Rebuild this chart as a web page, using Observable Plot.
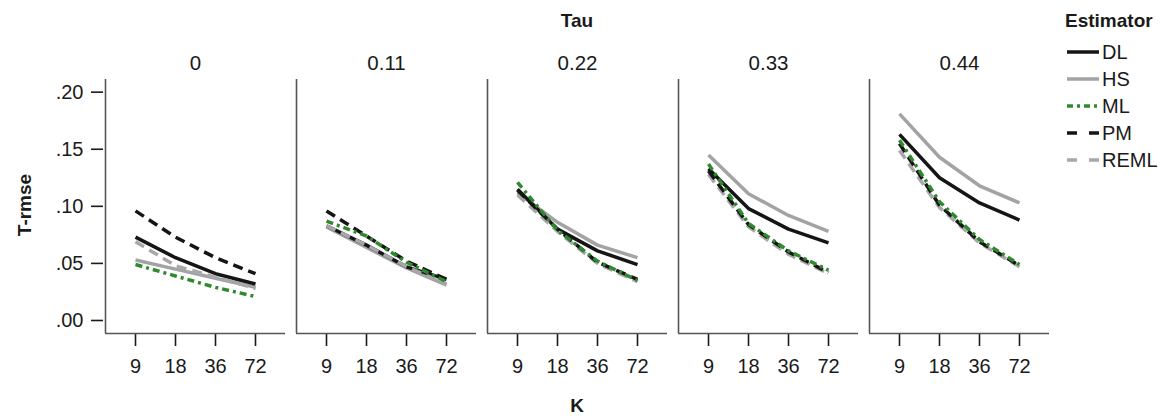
<!DOCTYPE html>
<html>
<head>
<meta charset="utf-8">
<script src="https://cdn.jsdelivr.net/npm/d3@7"></script>
<script src="https://cdn.jsdelivr.net/npm/@observablehq/plot@0.6"></script>
<style>
  html, body { margin: 0; padding: 0; background: #fff; }
  #chart { width: 1175px; height: 419px; }
</style>
</head>
<body>
<div id="chart"></div>
<script>
// ---- data ----
const taus = [0, 0.11, 0.22, 0.33, 0.44];
const Kvals = [9, 18, 36, 72];
const estimators = ["DL", "HS", "ML", "PM", "REML"];
const yTicks = [0, 0.05, 0.10, 0.15, 0.20];

// values per tau panel (rows) at K = 9, 18, 36, 72 (columns)
const DL = [
  [0.073, 0.055, 0.041, 0.032],
  [0.083, 0.066, 0.047, 0.036],
  [0.115, 0.080, 0.061, 0.049],
  [0.133, 0.098, 0.080, 0.068],
  [0.163, 0.125, 0.103, 0.088]
];
const HS = [
  [0.053, 0.045, 0.037, 0.029],
  [0.082, 0.064, 0.046, 0.031],
  [0.112, 0.086, 0.066, 0.055],
  [0.145, 0.111, 0.092, 0.078],
  [0.181, 0.143, 0.118, 0.103]
];
const ML = [
  [0.049, 0.039, 0.029, 0.021],
  [0.087, 0.074, 0.051, 0.034],
  [0.121, 0.079, 0.052, 0.035],
  [0.137, 0.085, 0.061, 0.044],
  [0.158, 0.104, 0.071, 0.049]
];
const PM = [
  [0.096, 0.073, 0.055, 0.041],
  [0.096, 0.074, 0.052, 0.036],
  [0.114, 0.080, 0.051, 0.036],
  [0.131, 0.084, 0.060, 0.042],
  [0.155, 0.101, 0.069, 0.048]
];
const REML = [
  [0.069, 0.048, 0.038, 0.028],
  [0.083, 0.066, 0.047, 0.032],
  [0.110, 0.078, 0.050, 0.034],
  [0.128, 0.082, 0.058, 0.041],
  [0.149, 0.099, 0.068, 0.047]
];

// ---- build table ----
const series = {DL, HS, ML, PM, REML};
const rows = [];
for (const est of estimators) {
  series[est].forEach((vals, ti) => {
    vals.forEach((v, ki) => rows.push({est, tau: taus[ti], k: Kvals[ki], v}));
  });
}

const styles = {
  DL:   {stroke: "#151515", strokeWidth: 3.5},
  HS:   {stroke: "#a3a3a3", strokeWidth: 3.5},
  ML:   {stroke: "#2f8a2f", strokeWidth: 3.5, strokeDasharray: "7,4,3,4"},
  PM:   {stroke: "#151515", strokeWidth: 3.5, strokeDasharray: "10,6"},
  REML: {stroke: "#a8a8a8", strokeWidth: 3.5, strokeDasharray: "10,6"}
};
const drawOrder = ["HS", "DL", "REML", "PM", "ML"];

const xMin = -0.75, xMax = 3.75;
const yMin = -0.0114, yMax = 0.2111;
const font = "'Liberation Sans', Arial, Helvetica, sans-serif";

const svg = Plot.plot({
  width: 1175,
  height: 419,
  marginLeft: 103,
  marginRight: 124,
  marginTop: 79,
  marginBottom: 86,
  style: {fontFamily: font, fontSize: "20px", color: "#1a1a1a", background: "#fff"},
  fx: {domain: taus, paddingInner: 0.057, paddingOuter: 0, label: null},
  x: {type: "linear", domain: [xMin, xMax], label: null},
  y: {domain: [yMin, yMax], label: null},
  marks: [
    Plot.axisFx({anchor: "top", tickSize: 0, tickPadding: 10, fontSize: 20.5, label: null, tickFormat: d => String(d)}),
    Plot.axisX({ticks: [0, 1, 2, 3], tickFormat: i => String(Kvals[i]), tickSize: 13, tickPadding: 12, fontSize: 20, label: null}),
    Plot.axisY({ticks: yTicks, tickFormat: d => d3.format(".2f")(d).replace(/^0/, ""), tickSize: 12, tickPadding: 8, fontSize: 20, label: null, dx: -2}),
    Plot.ruleX([xMin], {stroke: "#555", strokeWidth: 1.6}),
    Plot.ruleY([yMin], {stroke: "#555", strokeWidth: 1.6}),
    ...drawOrder.map(est => Plot.line(rows.filter(d => d.est === est), {
      x: d => Kvals.indexOf(d.k),
      y: "v",
      fx: "tau",
      ...styles[est],
      strokeLinejoin: "miter",
      strokeLinecap: "butt"
    }))
  ]
});

const root = d3.select(svg);
root.selectAll('g[aria-label="y-axis tick"], g[aria-label="x-axis tick"]').attr("stroke", "#b0b0b0").attr("stroke-width", 1.6);

// titles
root.append("text").attr("x", 577).attr("y", 20).attr("text-anchor", "middle").attr("dominant-baseline", "central")
  .attr("font-weight", "bold").attr("font-size", 19).attr("fill", "#1a1a1a").text("Tau");
root.append("text").attr("x", 577).attr("y", 405).attr("text-anchor", "middle").attr("dominant-baseline", "central")
  .attr("font-weight", "bold").attr("font-size", 19).attr("fill", "#1a1a1a").text("K");
root.append("text").attr("transform", "translate(24,205) rotate(-90)").attr("text-anchor", "middle").attr("dominant-baseline", "central")
  .attr("font-weight", "bold").attr("font-size", 19).attr("fill", "#1a1a1a").text("T-rmse");

// legend
const legendDash = {DL: null, HS: null, ML: "6,4,3,4", PM: "10,12", REML: "10,12"};
const lg = root.append("g").attr("font-family", font).attr("text-anchor", "start");
lg.append("text").attr("x", 1065).attr("y", 20).attr("text-anchor", "start").attr("dominant-baseline", "central")
  .attr("font-weight", "bold").attr("font-size", 19).attr("fill", "#1a1a1a").text("Estimator");
estimators.forEach((est, i) => {
  const y = 52 + i * 27;
  const ln = lg.append("line").attr("x1", 1067).attr("x2", 1099).attr("y1", y).attr("y2", y)
    .attr("stroke", styles[est].stroke).attr("stroke-width", 3.5);
  if (legendDash[est]) ln.attr("stroke-dasharray", legendDash[est]);
  lg.append("text").attr("x", 1102).attr("y", y).attr("text-anchor", "start").attr("dominant-baseline", "central")
    .attr("font-size", 20).attr("fill", "#1a1a1a").text(est);
});

document.getElementById("chart").appendChild(svg);
</script>
</body>
</html>
